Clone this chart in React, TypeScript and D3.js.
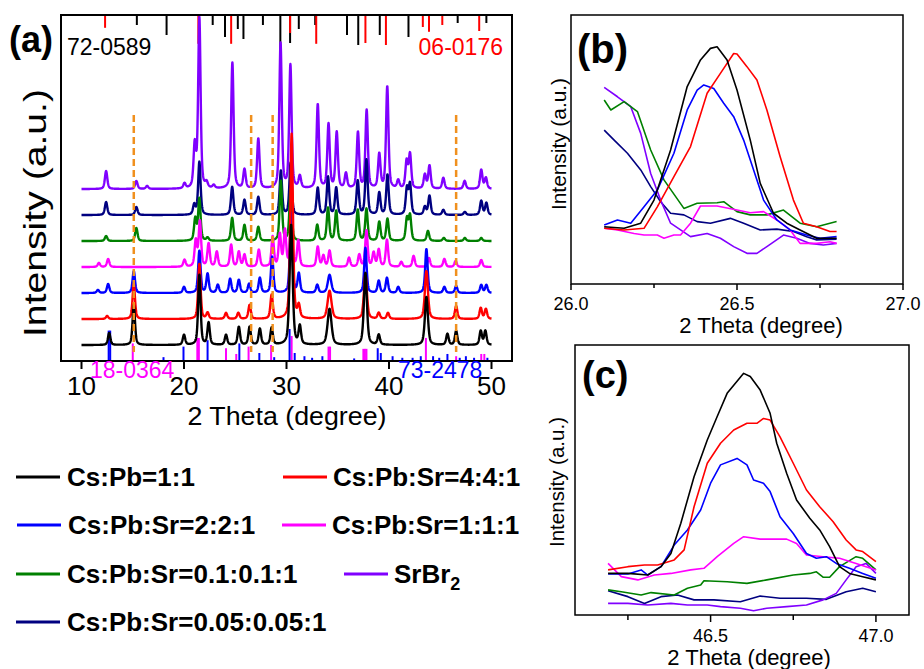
import React from 'react';
import * as d3 from 'd3';

const FONT = '"Liberation Sans", Arial, Helvetica, sans-serif';

// sample names and colours (legend order)
const sampleNames = ['Cs:Pb=1:1', 'Cs:Pb:Sr=4:4:1', 'Cs:Pb:Sr=2:2:1', 'Cs:Pb:Sr=1:1:1', 'Cs:Pb:Sr=0.1:0.1:1', 'SrBr2', 'Cs:Pb:Sr=0.05:0.05:1'];
const sampleColors = ['#000000', '#ff0000', '#0000ff', '#ff00ff', '#008000', '#8000ff', '#000080'];
// vertical stacking offset of each XRD pattern (a.u.)
const stackOffsets = [16, 42, 68, 94, 120, 172, 146];

// XRD peak lists: [2theta, height, fwhm?]
const peaksBlack = [[12.7, 12], [15.1, 40], [20.0, 10], [21.5, 70], [22.4, 22], [24.1, 10], [25.35, 18], [26.4, 18], [27.4, 16], [28.55, 17], [30.45, 120, 0.35], [31.3, 18], [34.2, 36, 0.45], [37.7, 72, 0.35], [39.0, 10], [43.65, 48, 0.35], [45.7, 11], [46.55, 14], [48.95, 14], [49.4, 14]];
const peaksRed = [[12.5, 3], [15.1, 35], [21.5, 55], [22.3, 6], [24.1, 6], [25.3, 6], [26.4, 14], [28.55, 24], [30.5, 185, 0.3], [31.2, 12], [34.2, 28, 0.45], [37.7, 45, 0.35], [39.0, 6], [39.9, 6], [43.65, 48, 0.35], [46.55, 13], [48.95, 11], [49.45, 10]];
const peaksBlue = [[11.6, 3], [12.6, 9], [15.1, 22], [20.0, 6], [21.5, 42], [22.3, 19], [23.3, 8], [24.5, 14], [25.35, 13], [26.35, 9], [27.4, 15], [28.6, 36], [30.45, 80], [31.2, 19], [33.0, 8], [34.2, 18, 0.4], [37.7, 45], [39.0, 12], [39.8, 15], [40.9, 6], [43.65, 44], [45.4, 6], [46.55, 7], [49.0, 8], [49.5, 8]];
const peaksMagenta = [[11.7, 4], [12.6, 8], [20.05, 7], [21.15, 26], [21.55, 45], [22.4, 23], [23.2, 15], [24.6, 22], [25.35, 15], [25.9, 12], [27.3, 17], [28.65, 30], [29.35, 32], [29.85, 36], [30.45, 42], [31.15, 26], [33.05, 20], [33.6, 11], [34.2, 16], [36.1, 9], [37.1, 12], [37.8, 36], [38.5, 14], [39.0, 17], [39.8, 27], [41.2, 5], [42.4, 11], [43.9, 9], [45.4, 8], [46.5, 6], [49.0, 7]];
const peaksGreen = [[12.4, 5], [15.35, 13], [21.1, 22], [21.5, 42], [22.3, 3], [24.7, 23], [25.9, 16], [27.25, 14], [29.45, 60], [30.4, 52], [33.0, 16], [34.05, 33], [34.85, 30], [36.95, 31], [37.8, 32], [39.05, 19], [39.85, 22], [41.75, 22], [42.05, 25], [43.8, 10], [45.35, 3], [47.4, 3], [49.0, 3]];
const peaksViolet = [[12.4, 18], [15.35, 8], [16.4, 3], [20.05, 5], [21.05, 42], [21.5, 170], [22.2, 5], [22.9, 3], [24.72, 126], [25.9, 19], [27.25, 50], [29.42, 145], [30.38, 123], [31.3, 12], [33.05, 84], [34.1, 64], [34.9, 56], [35.8, 15], [36.97, 56], [37.82, 78], [39.05, 34], [39.83, 102], [40.9, 8], [41.72, 27], [42.05, 34], [43.5, 14], [43.95, 23], [45.3, 11], [47.38, 8], [49.0, 19], [49.45, 11]];
const peaksNavy = [[12.4, 13], [15.35, 8], [21.0, 10], [21.5, 53], [24.7, 28], [25.9, 15], [27.25, 18], [29.45, 44], [30.4, 52], [33.05, 27], [34.05, 38], [34.85, 27], [36.95, 34], [37.8, 55], [39.05, 22], [39.85, 40], [41.75, 26], [42.05, 30], [43.5, 8], [43.95, 19], [45.3, 5], [47.4, 3], [49.0, 14], [49.5, 12]];
const allPeaks = [peaksBlack, peaksRed, peaksBlue, peaksMagenta, peaksGreen, peaksViolet, peaksNavy];

// reference cards (stick patterns), [2theta, relative intensity]
const card720589 = [[15.4, 25], [18.3, 50], [22.8, 25], [24.0, 55], [25.25, 35], [25.8, 60], [27.7, 25], [29.4, 100], [30.35, 70], [31.2, 35], [32.8, 25], [35.9, 50], [37.0, 75], [39.1, 50], [41.9, 55], [46.7, 20], [49.5, 20]];
const card060176 = [[12.3, 32], [21.4, 72], [24.6, 72], [30.35, 45], [32.9, 72], [37.7, 70], [39.7, 75], [43.3, 30], [43.9, 42], [45.2, 25], [48.8, 40]];
const card180364 = [[15.0, 55], [21.3, 72], [21.45, 72], [24.1, 40], [25.1, 22], [26.3, 45], [28.5, 50], [30.5, 78], [34.1, 45], [34.25, 45], [37.5, 38], [37.65, 38], [37.8, 38], [43.6, 72], [46.55, 15], [49.0, 22], [49.3, 22]];
const card732478 = [[12.65, 95], [12.8, 95], [18.0, 12], [19.95, 45], [22.3, 65], [25.4, 55], [27.35, 25], [28.8, 12], [30.3, 100], [30.8, 25], [31.75, 15], [32.5, 10], [33.5, 15], [36.6, 8], [38.9, 40], [39.2, 25], [40.35, 15], [41.3, 10], [42.3, 10], [43.1, 15], [44.3, 15], [44.9, 10], [45.7, 22], [46.9, 10], [47.5, 15], [48.3, 10], [49.6, 10]];
const dashedPositions = [15.1, 26.55, 28.65, 46.55];
const ticksA = [10, 20, 30, 40, 50];

// panel (b): zoom at 26-27 deg, [2theta, intensity]
const bBlack = [[26.10, 21.3], [26.16, 20.7], [26.21, 22.6], [26.25, 31.2], [26.30, 49.8], [26.35, 73.4], [26.39, 83.3], [26.42, 87.6], [26.44, 88.2], [26.47, 83.3], [26.50, 72.1], [26.54, 53.5], [26.57, 37.4], [26.61, 26.3], [26.65, 22.6], [26.69, 20.1], [26.74, 17.0], [26.80, 17.0]];
const bRed = [[26.10, 20.7], [26.16, 20.1], [26.22, 20.7], [26.26, 28.7], [26.31, 39.9], [26.36, 51.1], [26.41, 70.9], [26.45, 78.3], [26.49, 85.7], [26.50, 85.5], [26.53, 80.8], [26.56, 75.8], [26.59, 64.7], [26.63, 47.3], [26.67, 31.2], [26.70, 22.6], [26.74, 21.3], [26.78, 19.5], [26.80, 19.5]];
const bBlue = [[26.10, 21.9], [26.14, 23.8], [26.18, 22.6], [26.22, 28.7], [26.26, 34.9], [26.31, 48.6], [26.35, 64.7], [26.38, 72.1], [26.40, 74.0], [26.43, 72.7], [26.46, 67.2], [26.49, 62.2], [26.52, 53.5], [26.55, 42.4], [26.58, 31.2], [26.62, 23.8], [26.66, 20.1], [26.71, 18.2], [26.75, 17.0], [26.80, 17.6]];
const bMagenta = [[26.10, 20.7], [26.14, 20.1], [26.19, 18.8], [26.22, 18.2], [26.26, 18.2], [26.28, 17.0], [26.31, 18.2], [26.33, 18.2], [26.36, 22.6], [26.39, 29.0], [26.44, 29.0], [26.50, 27.5], [26.54, 26.5], [26.58, 26.9], [26.62, 23.8], [26.66, 20.1], [26.69, 15.1], [26.74, 15.1], [26.78, 15.7], [26.80, 15.1]];
const bGreen = [[26.10, 68.4], [26.12, 64.7], [26.16, 67.8], [26.20, 64.1], [26.24, 49.8], [26.28, 38.7], [26.34, 28.1], [26.38, 30.0], [26.44, 30.2], [26.46, 30.6], [26.50, 26.9], [26.54, 25.7], [26.59, 25.7], [26.64, 27.5], [26.69, 22.6], [26.74, 21.3], [26.80, 23.2]];
const bViolet = [[26.10, 73.1], [26.14, 69.6], [26.18, 65.9], [26.21, 56.0], [26.24, 41.1], [26.27, 31.2], [26.30, 22.6], [26.33, 20.1], [26.36, 17.6], [26.41, 18.8], [26.45, 17.0], [26.49, 13.9], [26.53, 11.4], [26.56, 11.4], [26.59, 13.9], [26.64, 18.2], [26.68, 17.0], [26.72, 15.1], [26.76, 14.5], [26.80, 15.1]];
const bNavy = [[26.10, 57.2], [26.13, 53.5], [26.17, 48.6], [26.21, 42.4], [26.24, 36.2], [26.27, 30.6], [26.30, 26.3], [26.34, 25.7], [26.38, 23.2], [26.42, 22.6], [26.48, 24.4], [26.52, 22.6], [26.57, 20.1], [26.62, 20.4], [26.67, 19.5], [26.71, 17.6], [26.74, 16.4], [26.80, 16.7]];
const bSeries = [bBlack, bRed, bBlue, bMagenta, bGreen, bViolet, bNavy];
const ticksB = [26.0, 26.5, 27.0];
const minorB = [26.25, 26.75];

// panel (c): zoom at 46.2-47 deg
const cBlack = [[46.19, 15.4], [46.25, 15.4], [46.31, 14.8], [46.35, 17.9], [46.38, 22.8], [46.41, 34.0], [46.45, 51.2], [46.49, 64.8], [46.52, 73.5], [46.55, 82.1], [46.60, 89.5], [46.62, 88.3], [46.65, 83.3], [46.68, 74.7], [46.70, 63.6], [46.73, 52.5], [46.76, 42.6], [46.80, 35.8], [46.83, 31.5], [46.86, 25.3], [46.89, 17.9], [46.92, 15.4], [46.96, 14.2], [47.00, 13.0]];
const cRed = [[46.19, 16.7], [46.25, 17.9], [46.30, 18.5], [46.34, 18.5], [46.39, 20.4], [46.42, 24.1], [46.45, 40.1], [46.49, 56.2], [46.53, 63.6], [46.57, 68.5], [46.61, 71.0], [46.64, 71.0], [46.66, 72.8], [46.68, 72.2], [46.71, 66.0], [46.75, 56.2], [46.79, 46.3], [46.83, 40.1], [46.87, 34.6], [46.91, 27.8], [46.94, 24.1], [46.96, 23.5], [47.00, 19.8]];
const cBlue = [[46.19, 15.2], [46.25, 15.2], [46.29, 16.7], [46.31, 14.8], [46.35, 17.9], [46.39, 25.9], [46.43, 31.5], [46.47, 38.9], [46.50, 48.8], [46.53, 55.6], [46.58, 58.0], [46.61, 55.6], [46.63, 50.0], [46.66, 48.8], [46.68, 45.7], [46.71, 36.4], [46.75, 30.2], [46.79, 22.8], [46.82, 21.0], [46.85, 21.6], [46.88, 19.1], [46.92, 17.3], [46.96, 15.4], [47.00, 13.6]];
const cMagenta = [[46.19, 19.1], [46.23, 14.2], [46.28, 13.0], [46.33, 14.8], [46.38, 15.4], [46.44, 16.7], [46.48, 17.3], [46.52, 21.6], [46.57, 26.5], [46.60, 29.0], [46.65, 28.1], [46.73, 28.1], [46.76, 26.5], [46.79, 22.2], [46.84, 21.6], [46.89, 21.0], [46.94, 19.1], [47.00, 16.7]];
const cGreen = [[46.19, 9.3], [46.23, 8.6], [46.29, 7.4], [46.32, 8.3], [46.39, 7.4], [46.43, 9.9], [46.47, 11.1], [46.48, 12.7], [46.55, 12.3], [46.61, 11.7], [46.67, 13.0], [46.75, 14.8], [46.80, 15.4], [46.82, 16.0], [46.84, 14.0], [46.86, 14.0], [46.89, 17.9], [46.94, 21.6], [46.96, 21.0], [47.00, 16.7]];
const cViolet = [[46.19, 4.3], [46.25, 4.3], [46.31, 3.7], [46.38, 4.3], [46.43, 3.7], [46.49, 3.7], [46.53, 3.1], [46.59, 2.5], [46.63, 1.6], [46.67, 2.5], [46.73, 3.1], [46.79, 3.7], [46.84, 5.6], [46.88, 8.0], [46.91, 13.0], [46.94, 17.9], [46.97, 19.1], [47.00, 15.4]];
const cNavy = [[46.19, 9.0], [46.25, 6.8], [46.30, 4.3], [46.35, 6.8], [46.40, 7.4], [46.45, 5.6], [46.51, 5.6], [46.59, 4.9], [46.65, 7.0], [46.71, 6.2], [46.79, 6.2], [46.85, 5.8], [46.91, 8.6], [46.96, 9.9], [47.00, 8.6]];
const cSeries = [cBlack, cRed, cBlue, cMagenta, cGreen, cViolet, cNavy];
const ticksC = [46.5, 47.0];
const minorC = [46.25, 46.75];

// build the diffraction profile from the peak list (pseudo-Voigt peaks)
const twoTheta = d3.range(10, 50.0001, 0.02);
function profile(peaks: number[][], offset: number): [number, number][] {
  return twoTheta.map(t => {
    let s = offset;
    for (const p of peaks) {
      const w = p[2] || 0.28;
      const u = (t - p[0]) / (w / 2);
      if (Math.abs(u) > 60) continue;
      s += p[1] * (0.5 / (1 + u * u) + 0.5 * Math.exp(-0.693 * u * u));
    }
    return [t, s];
  });
}

// legend layout
const legendItems = [
  { i: 0, x: 16, y: 477, tx: 67 },
  { i: 1, x: 283, y: 477, tx: 333 },
  { i: 2, x: 17, y: 525, tx: 68 },
  { i: 3, x: 282, y: 525, tx: 332 },
  { i: 4, x: 16, y: 574, tx: 67 },
  { i: 5, x: 344, y: 574, tx: 394 },
  { i: 6, x: 16, y: 622, tx: 67 },
];

const App = () => {
  // panel (a)
  const xA = d3.scaleLinear().domain([8, 52]).range([61, 512]);
  const yA = d3.scaleLinear().domain([0, 346]).range([361, 15]);
  const stickTop = d3.scaleLinear().domain([0, 100]).range([0, 40]);
  const stickBot = d3.scaleLinear().domain([0, 100]).range([0, 32]);
  const lineA = d3.line<[number, number]>().x(d => xA(d[0])).y(d => yA(d[1]));
  const drawOrder = [5, 6, 4, 3, 2, 1, 0];

  // panel (b)
  const xB = d3.scaleLinear().domain([26, 27]).range([571, 903]);
  const yB = d3.scaleLinear().domain([0, 100]).range([284, 15]);
  const lineB = d3.line<number[]>().x(d => xB(d[0])).y(d => yB(d[1]));

  // panel (c)
  const xC = d3.scaleLinear().domain([46.09, 47.1]).range([575, 909]);
  const yC = d3.scaleLinear().domain([0, 100]).range([615, 345]);
  const lineC = d3.line<number[]>().x(d => xC(d[0])).y(d => yC(d[1]));

  const [a0, a1] = xA.range();
  const [aB, aT] = yA.range();

  return (
    <svg width={924} height={669} style={{ position: 'absolute', left: 0, top: 0, background: '#fff' }} fontFamily={FONT}>
      <defs>
        <clipPath id="clipA"><rect x={a0} y={aT} width={a1 - a0} height={aB - aT} /></clipPath>
      </defs>

      {/* ---------- panel (a) ---------- */}
      <g clipPath="url(#clipA)">
        {card720589.map((d, k) => (
          <line key={'t1' + k} x1={xA(d[0])} x2={xA(d[0])} y1={aT} y2={aT + stickTop(d[1])} stroke="#000" strokeWidth={2} />
        ))}
        {card060176.map((d, k) => (
          <line key={'t2' + k} x1={xA(d[0])} x2={xA(d[0])} y1={aT} y2={aT + stickTop(d[1])} stroke="#ff0000" strokeWidth={2} />
        ))}
        {card180364.map((d, k) => (
          <line key={'b1' + k} x1={xA(d[0])} x2={xA(d[0])} y1={aB} y2={aB - stickBot(d[1])} stroke="#ff00ff" strokeWidth={2} />
        ))}
        {card732478.map((d, k) => (
          <line key={'b2' + k} x1={xA(d[0])} x2={xA(d[0])} y1={aB} y2={aB - stickBot(d[1])} stroke="#0000ff" strokeWidth={2} />
        ))}
        {drawOrder.map(i => (
          <path key={'p' + i} d={lineA(profile(allPeaks[i], stackOffsets[i])) || ''} fill="none" stroke={sampleColors[i]} strokeWidth={2.4} strokeLinejoin="round" />
        ))}
        {dashedPositions.map((p, k) => (
          <line key={'d' + k} x1={xA(p)} x2={xA(p)} y1={yA(246)} y2={yA(9)} stroke="#f0901e" strokeWidth={2.5} strokeDasharray="7,4" />
        ))}
      </g>
      <rect x={a0} y={aT} width={a1 - a0} height={aB - aT} fill="none" stroke="#000" strokeWidth={2} />
      {ticksA.map(t => (
        <g key={'ta' + t}>
          <line x1={xA(t)} x2={xA(t)} y1={aB} y2={aB + 8} stroke="#000" strokeWidth={2} />
          <text x={xA(t)} y={395} fontSize={26} textAnchor="middle">{t}</text>
        </g>
      ))}
      <text x={67} y={55} fontSize={23} fill="#000">72-0589</text>
      <text x={503} y={55} fontSize={23} fill="#ff0000" textAnchor="end">06-0176</text>
      <text x={90} y={378} fontSize={23} fill="#ff00ff">18-0364</text>
      <text x={398} y={378} fontSize={23} fill="#0000ff">73-2478</text>
      <text x={287} y={425} fontSize={26.5} textAnchor="middle" textLength={199} lengthAdjust="spacingAndGlyphs">2 Theta (degree)</text>
      <text transform="translate(46,213) rotate(-90)" fontSize={31} textAnchor="middle" textLength={248} lengthAdjust="spacingAndGlyphs">Intensity (a.u.)</text>
      <text x={9} y={52} fontSize={36} fontWeight="bold">(a)</text>

      {/* ---------- panel (b) ---------- */}
      {[6, 5, 4, 3, 2, 1, 0].map(i => (
        <path key={'b' + i} d={lineB(bSeries[i]) || ''} fill="none" stroke={sampleColors[i]} strokeWidth={1.6} strokeLinejoin="round" />
      ))}
      <rect x={571} y={15} width={332} height={269} fill="none" stroke="#000" strokeWidth={1.5} />
      {ticksB.map(t => (
        <g key={'tb' + t}>
          <line x1={xB(t)} x2={xB(t)} y1={yB(0)} y2={yB(0) + 6} stroke="#000" strokeWidth={1.5} />
          <text x={xB(t)} y={310} fontSize={18} textAnchor="middle">{t.toFixed(1)}</text>
        </g>
      ))}
      {minorB.map(t => (
        <line key={'mb' + t} x1={xB(t)} x2={xB(t)} y1={yB(0)} y2={yB(0) + 4} stroke="#000" strokeWidth={1.5} />
      ))}
      <text x={761} y={333} fontSize={22} textAnchor="middle">2 Theta (degree)</text>
      <text transform="translate(566,144) rotate(-90)" fontSize={21} textAnchor="middle" textLength={132} lengthAdjust="spacingAndGlyphs">Intensity (a.u.)</text>
      <text x={577} y={63} fontSize={40} fontWeight="bold">(b)</text>

      {/* ---------- panel (c) ---------- */}
      {[6, 5, 4, 3, 2, 1, 0].map(i => (
        <path key={'c' + i} d={lineC(cSeries[i]) || ''} fill="none" stroke={sampleColors[i]} strokeWidth={1.6} strokeLinejoin="round" />
      ))}
      <rect x={575} y={345} width={334} height={270} fill="none" stroke="#000" strokeWidth={1.5} />
      {ticksC.map(t => (
        <g key={'tc' + t}>
          <line x1={xC(t)} x2={xC(t)} y1={yC(0)} y2={yC(0) + 7} stroke="#000" strokeWidth={1.5} />
          <text x={xC(t)} y={642} fontSize={18} textAnchor="middle">{t.toFixed(1)}</text>
        </g>
      ))}
      {minorC.map(t => (
        <line key={'mc' + t} x1={xC(t)} x2={xC(t)} y1={yC(0)} y2={yC(0) + 5} stroke="#000" strokeWidth={1.5} />
      ))}
      <text x={749} y={665} fontSize={22} textAnchor="middle">2 Theta (degree)</text>
      <text transform="translate(564,482) rotate(-90)" fontSize={21} textAnchor="middle" textLength={130} lengthAdjust="spacingAndGlyphs">Intensity (a.u.)</text>
      <text x={582} y={388} fontSize={38} fontWeight="bold">(c)</text>

      {/* ---------- legend ---------- */}
      {legendItems.map(it => (
        <g key={'lg' + it.i}>
          <line x1={it.x} x2={it.x + 44} y1={it.y} y2={it.y} stroke={sampleColors[it.i]} strokeWidth={3} />
          {it.i === 5 ? (
            <text x={it.tx} y={it.y + 9} fontSize={26} fontWeight="bold">SrBr<tspan dy={7} fontSize={18}>2</tspan></text>
          ) : (
            <text x={it.tx} y={it.y + 9} fontSize={26} fontWeight="bold">{sampleNames[it.i]}</text>
          )}
        </g>
      ))}
    </svg>
  );
};

export default App;
